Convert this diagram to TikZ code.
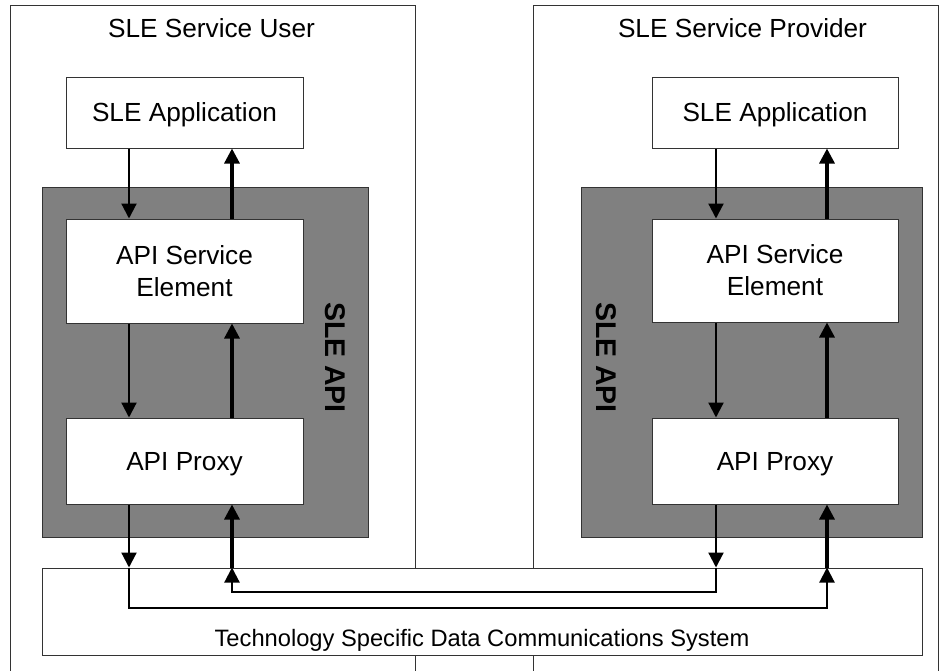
\documentclass[tikz,border=0pt]{standalone}
\usepackage{fontspec}
\setmainfont{Liberation Sans}
\usetikzlibrary{arrows.meta}
\newcommand{\bigfs}{\fontsize{26.2pt}{32pt}\selectfont}
\newcommand{\techfs}{\fontsize{23.7pt}{28pt}\selectfont}
\newcommand{\apifs}{\fontsize{28.5pt}{32pt}\selectfont\bfseries}
\definecolor{edge}{HTML}{333333}
\definecolor{apigray}{HTML}{808080}
\begin{document}
\begin{tikzpicture}[x=1pt,y=-1pt,
  frame/.style={draw=edge, line width=1pt},
  boxbase/.style={draw=edge, fill=white, line width=1pt, inner sep=0pt, font=\bigfs},
  wbox/.style={boxbase, text height=18.8pt, text depth=0pt},
  mbox/.style={boxbase, align=center},
  apibox/.style={draw=edge, fill=apigray, line width=1pt, inner sep=0pt},
  txt/.style={inner sep=0pt, anchor=base, font=\bigfs},
  apilbl/.style={inner sep=0pt, rotate=-90, font=\apifs, text height=20.5pt, text depth=0pt},
  tip/.style={-{Triangle[length=15pt 0 0,width=15pt 0 0]}},
  dn/.style={tip, line width=2.2pt},
  upw/.style={tip, line width=3.2pt},
  conn/.style={tip, line width=2.2pt, line join=miter}
]
\useasboundingbox (0,0) rectangle (943,670);
\begin{scope}
\clip (0,0) rectangle (943,670);
% outer frames (open at the bottom)
\draw[frame] (10,680) -- (10,5) -- (415,5) -- (415,680);
\draw[frame] (533,680) -- (533,5) -- (938,5) -- (938,680);
\end{scope}
\node[txt] (ttl1) at (211.5,37) {SLE Service User};
\node[txt] (ttl2) at (742.5,37) {SLE Service Provider};

% technology box
\node[apibox, fill=white, minimum width=880pt, minimum height=87pt] (tech) at (482,611.5) {};
\node[inner sep=0pt, anchor=base, font=\techfs] (techlbl) at (482,646) {Technology Specific Data Communications System};

% SLE API grey boxes
\node[apibox, minimum width=326pt, minimum height=350pt] (api1) at (205,362) {};
\node[apibox, minimum width=341pt, minimum height=350pt] (api2) at (751.5,362) {};
\node[apilbl] (apil1) at (336,357.5) {SLE API};
\node[apilbl] (apil2) at (607,357.5) {SLE API};

% left stack
\node[wbox, minimum width=237pt, minimum height=71pt] (app1) at (184.5,112.5) {SLE Application};
\node[mbox, minimum width=237pt, minimum height=104pt] (ase1) at (184.5,271) {API Service\\Element};
\node[wbox, minimum width=237pt, minimum height=86pt] (px1) at (184.5,461) {API Proxy};
% right stack
\node[wbox, minimum width=246pt, minimum height=71pt] (app2) at (775,112.5) {SLE Application};
\node[mbox, minimum width=246pt, minimum height=103pt] (ase2) at (775,270.5) {API Service\\Element};
\node[wbox, minimum width=246pt, minimum height=86pt] (px2) at (775,461) {API Proxy};

% connector x positions and bottom levels
\coordinate (cA) at (129,0);
\coordinate (cB) at (232,0);
\coordinate (cC) at (716,0);
\coordinate (cD) at (827,0);
\coordinate (hi) at (0,592);
\coordinate (lo) at (0,608);

% left vertical arrows
\draw[dn] (app1.south -| cA) -- (ase1.north -| cA);
\draw[upw] (ase1.north -| cB) -- (app1.south -| cB);
\draw[dn] (ase1.south -| cA) -- (px1.north -| cA);
\draw[upw] (px1.north -| cB) -- (ase1.south -| cB);
% right vertical arrows
\draw[dn] (app2.south -| cC) -- (ase2.north -| cC);
\draw[upw] (ase2.north -| cD) -- (app2.south -| cD);
\draw[dn] (ase2.south -| cC) -- (px2.north -| cC);
\draw[upw] (px2.north -| cD) -- (ase2.south -| cD);

% bottom connections
\draw[dn] (px1.south -| cA) -- (tech.north -| cA);
\draw[conn] (tech.north -| cA) -- (lo -| cA) -- (lo -| cD) -- (tech.north -| cD);
\draw[upw] (tech.north -| cD) -- (px2.south -| cD);
\draw[dn] (px2.south -| cC) -- (tech.north -| cC);
\draw[conn] (tech.north -| cC) -- (hi -| cC) -- (hi -| cB) -- (tech.north -| cB);
\draw[upw] (tech.north -| cB) -- (px1.south -| cB);
\end{tikzpicture}
\end{document}
